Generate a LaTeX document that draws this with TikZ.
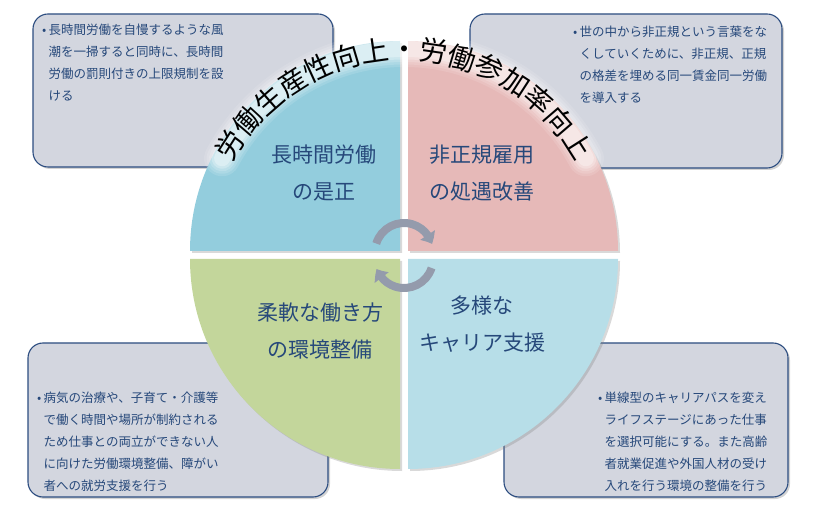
\documentclass[tikz,border=0pt]{standalone}
\usepackage{fontspec}
\setmainfont{Noto Sans CJK JP}
\usetikzlibrary{decorations.text,arrows.meta,bending,shadows}
\definecolor{qblue}{RGB}{147,205,221}
\definecolor{qpink}{RGB}{230,185,184}
\definecolor{qgreen}{RGB}{195,214,155}
\definecolor{qlight}{RGB}{183,222,232}
\definecolor{boxfill}{RGB}{211,214,223}
\definecolor{boxline}{RGB}{44,77,128}
\definecolor{navytext}{RGB}{38,72,122}
\definecolor{cyclegray}{RGB}{148,155,172}
\newcommand{\bul}{\makebox[6.5pt][l]{•}}
\newcommand{\ind}{\hspace*{6.5pt}}

\begin{document}
\begin{tikzpicture}[x=1pt,y=1pt,
    notebox/.style={draw=boxline,line width=1.1pt,fill=boxfill,rounded corners=15pt,
      drop shadow={shadow xshift=2pt,shadow yshift=-2pt,opacity=0.35}},
    quarter/.style={drop shadow={shadow xshift=2pt,shadow yshift=-2pt,opacity=0.3}},
    note/.style={inner sep=0pt,anchor=north west,align=left,text=navytext,
      font=\fontsize{12.5}{22}\selectfont},
    title/.style={align=center,text=navytext,font=\fontsize{21}{37}\selectfont},
    turnarrow/.style={line width=8pt,draw=cyclegray,-{Triangle[width=17pt,length=10pt,bend]}}]

      \useasboundingbox (0,0) rectangle (824,517);

      \draw[notebox] (33,350) rectangle (333,503);
      \draw[notebox] (470,349) rectangle (782,503);
      \draw[notebox] (28,20) rectangle (328,174);
      \draw[notebox] (504,20) rectangle (788,174);

      \node[note] (noteA) at (42,493) {\bul 長時間労働を自慢するような風\\
        \ind 潮を一掃すると同時に、長時間\\
        \ind 労働の罰則付きの上限規制を設\\
        \ind ける};
      \node[note] (noteB) at (573,491) {\bul 世の中から非正規という言葉をな\\
        \ind くしていくために、非正規、正規\\
        \ind の格差を埋める同一賃金同一労働\\
        \ind を導入する};
      \node[note] (noteC) at (37,125.5) {\bul 病気の治療や、子育て・介護等\\
        \ind で働く時間や場所が制約される\\
        \ind ため仕事との両立ができない人\\
        \ind に向けた労働環境整備、障がい\\
        \ind 者への就労支援を行う};
      \node[note] (noteD) at (598,125.5) {\bul 単線型のキャリアパスを変え\\
        \ind ライフステージにあった仕事\\
        \ind を選択可能にする。また高齢\\
        \ind 者就業促進や外国人材の受け\\
        \ind 入れを行う環境の整備を行う};

      \coordinate (ctr) at (404,262);
      \fill[qblue,quarter] (400,266) -- ++(-210,0) arc (180:90:210) -- cycle;
      \fill[qpink,quarter] (408,266) -- ++(0,210) arc (90:0:210) -- cycle;
      \fill[qgreen,quarter] (400,258) -- ++(-210,0) arc (180:270:210) -- cycle;
      \fill[qlight,quarter] (408,258) -- ++(210,0) arc (0:-90:210) -- cycle;

      \foreach \w/\op in {36/0.12,31/0.14,26/0.18,21/0.25,16/0.3}
        \draw[white,opacity=\op,line width=\w pt,line cap=round,shift={(ctr)}]
          (152:206) arc (152:28:206);
      \path[decorate,shift={(ctr)},decoration={text along path,text align=center,
        text={|\fontsize{28}{28}\selectfont|労働生産性向上・労働参加率向上}}]
        (160:195) arc (160:20:195);

      \draw[turnarrow] (404,265) ++(163:29) arc (163:16:29);
      \draw[turnarrow] (404,258) ++(-18:29) arc (-18:-160:29);

      \node[title] (qa) at (324,343.5) {長時間労働\\の是正};
      \node[title] (qb) at (482,343.5) {非正規雇用\\の処遇改善};
      \node[title] (qc) at (320,186.5) {柔軟な働き方\\の環境整備};
      \node[title] (qd) at (482,193) {多様な\\キャリア支援};

\end{tikzpicture}
\end{document}
